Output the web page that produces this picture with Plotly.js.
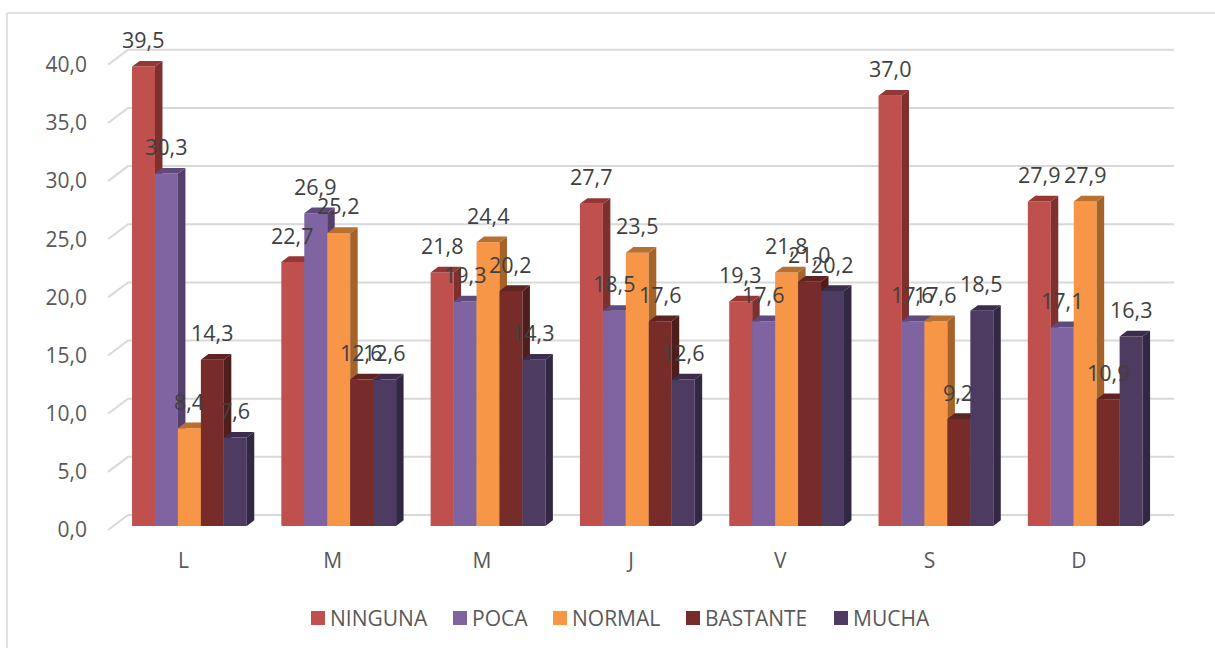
<!DOCTYPE html>
<html>
<head>
<meta charset="utf-8">
<script src="https://cdn.plot.ly/plotly-3.0.1.min.js"></script>
<style>html,body{margin:0;padding:0;background:#fff}#chart{width:1215px;height:648px}</style>
</head>
<body>
<div id="chart"></div>
<script>
// Weekly share per response level, drawn as clustered pseudo-3D columns
const days = ["L", "M", "M", "J", "V", "S", "D"];
const levels = ["NINGUNA", "POCA", "NORMAL", "BASTANTE", "MUCHA"];
const ninguna = [39.5, 22.7, 21.8, 27.7, 19.3, 37.0, 27.9];
const poca = [30.3, 26.9, 19.3, 18.5, 17.6, 17.6, 17.1];
const normal = [8.4, 25.2, 24.4, 23.5, 21.8, 17.6, 27.9];
const bastante = [14.3, 12.6, 20.2, 17.6, 21.0, 9.2, 10.9];
const mucha = [7.6, 12.6, 14.3, 12.6, 20.2, 18.5, 16.3];
const seriesValues = [ninguna, poca, normal, bastante, mucha];
const frontColors = ["#C0504D", "#8064A2", "#F79646", "#772C2A", "#4D3B62"];
const sideColors = ["#7F302E", "#553F6C", "#A5632A", "#4F1D1C", "#322843"];
const topColors = ["#953735", "#604A7B", "#B7702F", "#5F2322", "#3C2D4D"];
const gridTicks = [0, 5, 10, 15, 20, 25, 30, 35, 40];

const W = 1215, H = 648;
const plot = {left: 100, right: 1180, top: 20, bottom: 540};
const pxPerUnitX = 149.3, pxPerUnitY = 11.63;
const zeroPxX = 189.4, zeroPxY = 526;

// Axis ranges derived from the pixel scale of one group and one value unit
const xRange = [(plot.left - zeroPxX) / pxPerUnitX, (plot.right - zeroPxX) / pxPerUnitX];
const yRange = [(zeroPxY - plot.bottom) / pxPerUnitY, (zeroPxY - plot.top) / pxPerUnitY];

const barW = 22.95 / pxPerUnitX;
const depthX = 7.5 / pxPerUnitX, depthY = 5.7 / pxPerUnitY;
const wallRise = 11 / pxPerUnitY, wallLeft = (128 - zeroPxX) / pxPerUnitX;
const wallRight = (1174 - zeroPxX) / pxPerUnitX, stubLeft = (108 - zeroPxX) / pxPerUnitX;
const stubDrop = 15 / pxPerUnitY, tickShift = -6 / pxPerUnitX, tickPitch = 0.9995;

const traces = [];

// Back wall gridlines with their short diagonal stubs on the floor side
const gx = [], gy = [];
gridTicks.forEach(t => {
  const b = t + wallRise;
  gx.push(stubLeft, wallLeft, wallRight, null);
  gy.push(b - stubDrop, b, b, null);
});
traces.push({type: "scatter", mode: "lines", x: gx, y: gy, xaxis: "x", yaxis: "y",
  line: {color: "#D9D9D9", width: 2}, hoverinfo: "skip", showlegend: false});

// One overlaid subplot per series, so each column cluster paints left to right
const axes = {};
const annotations = [];
seriesValues.forEach((vals, s) => {
  const n = s + 2, xa = "x" + n, ya = "y" + n;
  axes["xaxis" + n] = {overlaying: "x", range: xRange, visible: false};
  axes["yaxis" + n] = {overlaying: "y", range: yRange, visible: false};
  const centers = vals.map((_, i) => i + (s - 2) * barW);
  const sideX = [], sideY = [], topX = [], topY = [];
  vals.forEach((v, i) => {
    const l = centers[i] - barW / 2, r = centers[i] + barW / 2;
    sideX.push(r, r + depthX, r + depthX, r, r, null);
    sideY.push(0, depthY, v + depthY, v, 0, null);
    topX.push(l, l + depthX, r + depthX, r, l, null);
    topY.push(v, v + depthY, v + depthY, v, v, null);
    annotations.push({x: centers[i], y: v, xref: "x", yref: "y", yshift: 27, xshift: -0.5,
      text: v.toFixed(1).replace(".", ","), showarrow: false, xanchor: "center", yanchor: "middle",
      font: {family: "Open Sans", size: 21.5, color: "#404040"}});
  });
  traces.push({type: "bar", name: levels[s], x: centers, y: vals, width: barW, xaxis: xa, yaxis: ya,
    marker: {color: frontColors[s], line: {width: 0}}, hoverinfo: "name+y", showlegend: false});
  traces.push({type: "scatter", mode: "lines", x: sideX, y: sideY, fill: "toself", fillcolor: sideColors[s],
    line: {width: 0}, xaxis: xa, yaxis: ya, hoverinfo: "skip", showlegend: false});
  traces.push({type: "scatter", mode: "lines", x: topX, y: topY, fill: "toself", fillcolor: topColors[s],
    line: {width: 0}, xaxis: xa, yaxis: ya, hoverinfo: "skip", showlegend: false});
});

const paperX = px => (px - plot.left) / (plot.right - plot.left);
const paperY = py => (plot.bottom - py) / (plot.bottom - plot.top);

// Outer chart frame, open at the right and bottom of the canvas
const frame = {color: "#D9D9D9", width: 1.5};
const shapes = [
  {type: "line", xref: "paper", yref: "paper", x0: paperX(7), x1: paperX(7), y0: paperY(13), y1: paperY(H), line: frame, layer: "below"},
  {type: "line", xref: "paper", yref: "paper", x0: paperX(7), x1: paperX(W), y0: paperY(13), y1: paperY(13), line: frame, layer: "below"}
];

// Compact legend row: small square swatch close to its label
const swatchLeft = [311, 453, 553, 686, 834];
levels.forEach((name, s) => {
  const x0 = swatchLeft[s];
  shapes.push({type: "rect", xref: "paper", yref: "paper", x0: paperX(x0), x1: paperX(x0 + 14),
    y0: paperY(625), y1: paperY(611), fillcolor: frontColors[s], line: {width: 0}});
  annotations.push({xref: "paper", yref: "paper", x: paperX(x0 + 16.5), y: paperY(617.5), text: name,
    showarrow: false, xanchor: "left", yanchor: "middle",
    font: {family: "Open Sans", size: 21, color: "#595959"}});
});

const layout = Object.assign({
  width: W, height: H, showlegend: false, barmode: "overlay",
  paper_bgcolor: "#FFFFFF", plot_bgcolor: "rgba(0,0,0,0)",
  margin: {l: plot.left, r: W - plot.right, t: plot.top, b: H - plot.bottom, pad: 0},
  font: {family: "Open Sans", color: "#595959"},
  xaxis: {range: xRange, tickmode: "array", tickvals: days.map((_, i) => i * tickPitch + tickShift), ticktext: days,
    showgrid: false, zeroline: false, showline: false, ticks: "", ticklabelstandoff: 6,
    tickfont: {family: "Open Sans", size: 21, color: "#595959"}},
  yaxis: {range: yRange, tickmode: "array", tickvals: gridTicks, ticktext: gridTicks.map(t => t.toFixed(1).replace(".", ",")),
    showgrid: false, zeroline: false, showline: false, ticks: "", ticklabelstandoff: 12, ticklabelshift: 4,
    tickfont: {family: "Open Sans", size: 21, color: "#595959"}},
  shapes, annotations
}, axes);

Plotly.newPlot("chart", traces, layout, {displayModeBar: false, responsive: false});
</script>
</body>
</html>
